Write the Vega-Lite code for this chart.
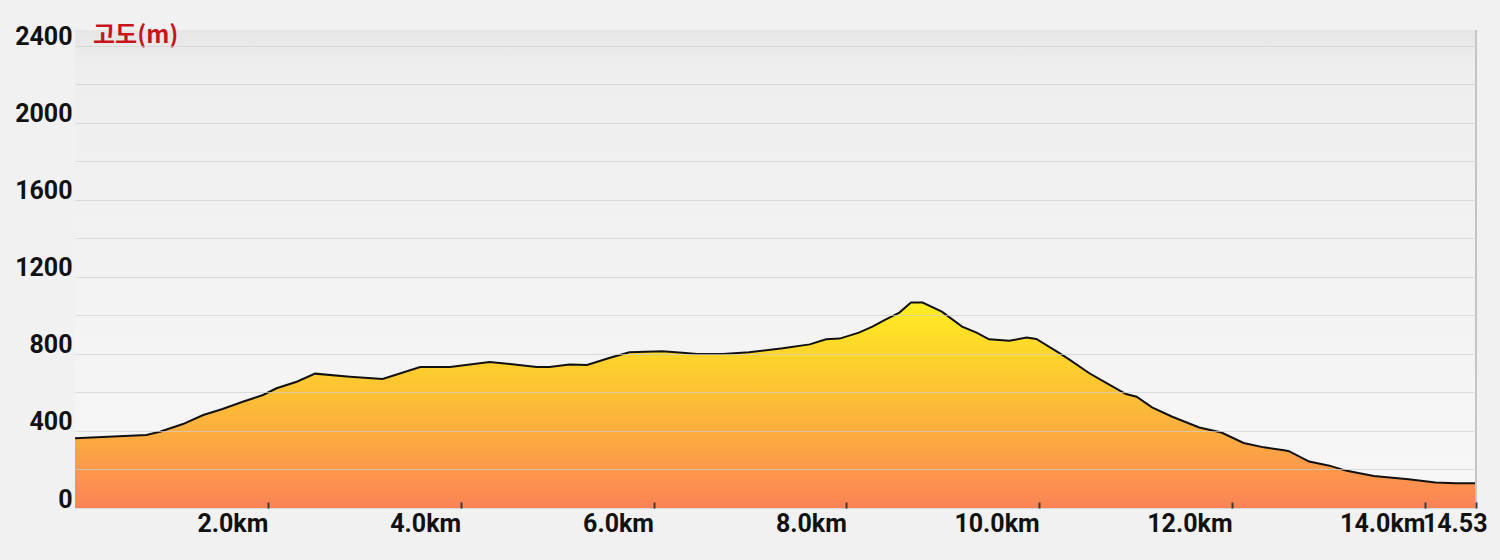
{
  "$schema": "https://vega.github.io/schema/vega-lite/v6.json",
  "width": 1401,
  "height": 478,
  "autosize": {"type": "none"},
  "padding": {"left": 75, "top": 30, "right": 24, "bottom": 52},
  "background": "#f1f1f1",
  "config": {
    "view": {
      "stroke": null,
      "fill": {"gradient": "linear", "x1": 0, "y1": 0, "x2": 0, "y2": 1,
        "stops": [{"offset": 0, "color": "#e6e6e6"}, {"offset": 0.08, "color": "#eeeeee"}, {"offset": 1, "color": "#f7f7f7"}]}
    }
  },
  "title": {
    "text": "고도(m)",
    "anchor": "start",
    "frame": "group",
    "orient": "top",
    "offset": -23,
    "dx": 18,
    "font": "Noto Sans CJK KR",
    "fontSize": 24,
    "fontWeight": "bold",
    "color": "#c8141c"
  },
  "data": {
    "values": [
      {"km": 0.00, "m": 362}, {"km": 0.74, "m": 379}, {"km": 0.88, "m": 396}, {"km": 1.12, "m": 436},
      {"km": 1.33, "m": 483}, {"km": 1.53, "m": 514}, {"km": 1.74, "m": 552}, {"km": 1.95, "m": 587},
      {"km": 2.09, "m": 622}, {"km": 2.30, "m": 656}, {"km": 2.49, "m": 698}, {"km": 2.85, "m": 682},
      {"km": 3.19, "m": 670}, {"km": 3.58, "m": 732}, {"km": 3.89, "m": 732}, {"km": 4.30, "m": 758},
      {"km": 4.51, "m": 748}, {"km": 4.79, "m": 732}, {"km": 4.92, "m": 732}, {"km": 5.13, "m": 745},
      {"km": 5.31, "m": 743}, {"km": 5.54, "m": 779}, {"km": 5.75, "m": 809}, {"km": 6.09, "m": 814},
      {"km": 6.30, "m": 807}, {"km": 6.45, "m": 800}, {"km": 6.72, "m": 800}, {"km": 6.99, "m": 809},
      {"km": 7.34, "m": 830}, {"km": 7.62, "m": 850}, {"km": 7.79, "m": 876}, {"km": 7.93, "m": 880},
      {"km": 8.13, "m": 911}, {"km": 8.27, "m": 942}, {"km": 8.41, "m": 980}, {"km": 8.55, "m": 1015},
      {"km": 8.67, "m": 1067}, {"km": 8.79, "m": 1067}, {"km": 8.99, "m": 1020}, {"km": 9.20, "m": 942},
      {"km": 9.35, "m": 911}, {"km": 9.48, "m": 876}, {"km": 9.69, "m": 869}, {"km": 9.87, "m": 885},
      {"km": 9.97, "m": 878}, {"km": 10.21, "m": 804}, {"km": 10.31, "m": 772}, {"km": 10.52, "m": 700},
      {"km": 10.69, "m": 651}, {"km": 10.90, "m": 592}, {"km": 11.01, "m": 578}, {"km": 11.17, "m": 523},
      {"km": 11.38, "m": 474}, {"km": 11.66, "m": 418}, {"km": 11.89, "m": 392}, {"km": 12.12, "m": 338},
      {"km": 12.33, "m": 315}, {"km": 12.54, "m": 300}, {"km": 12.59, "m": 295}, {"km": 12.80, "m": 241},
      {"km": 13.01, "m": 220}, {"km": 13.19, "m": 193}, {"km": 13.47, "m": 166}, {"km": 13.83, "m": 149},
      {"km": 14.11, "m": 133}, {"km": 14.32, "m": 128}, {"km": 14.53, "m": 128}
    ]
  },
  "layer": [
    {
      "mark": {
        "type": "area",
        "interpolate": "linear",
        "opacity": 1,
        "fillOpacity": 1,
        "line": {"color": "#111111", "strokeWidth": 2},
        "color": {"gradient": "linear", "x1": 0, "y1": 0, "x2": 0, "y2": 1,
          "stops": [
            {"offset": 0, "color": "#ffee22"},
            {"offset": 0.3, "color": "#fdd02c"},
            {"offset": 0.65, "color": "#fcab40"},
            {"offset": 1, "color": "#fb8356"}
          ]}
      },
      "encoding": {
        "x": {
          "field": "km", "type": "quantitative",
          "scale": {"domain": [0, 14.53], "nice": false, "zero": false},
          "axis": {
            "title": null,
            "values": [2, 4, 6, 8, 10, 12, 14, 14.53],
            "labelExpr": "datum.value > 14.5 ? '14.53' : format(datum.value, '.1f') + 'km'",
            "labelAlign": "right",
            "labelOffset": {"condition": {"test": "datum.value > 14.5", "value": 11}, "value": 0},
            "labelFlush": false,
            "labelOverlap": false,
            "labelBaseline": "top",
            "labelFont": "Roboto",
            "labelFontSize": 25,
            "labelFontWeight": "bold",
            "labelColor": "#111111",
            "labelPadding": 9,
            "domain": false,
            "grid": false,
            "ticks": true,
            "tickSize": -6,
            "tickColor": "#3a3a3a",
            "tickWidth": 2,
            "zindex": 1
          }
        },
        "y": {
          "field": "m", "type": "quantitative",
          "scale": {"domain": [0, 2483], "nice": false, "zero": true},
          "axis": {
            "title": null,
            "values": [0, 200, 400, 600, 800, 1000, 1200, 1400, 1600, 1800, 2000, 2200, 2400],
            "labelExpr": "datum.value % 400 == 0 ? datum.label : ''",
            "format": "d",
            "labelBaseline": "alphabetic",
            "labelFont": "Roboto",
            "labelFontSize": 25,
            "labelFontWeight": "bold",
            "labelColor": "#111111",
            "labelPadding": 3,
            "labelOffset": -1,
            "domain": false,
            "ticks": false,
            "grid": true,
            "gridColor": "#cfcfcf",
            "gridOpacity": 0.7,
            "gridWidth": 1.2,
            "zindex": 1
          }
        }
      }
    },
    {
      "mark": {"type": "rule", "color": "#c4c4c4", "strokeWidth": 2},
      "encoding": {"x": {"datum": 14.53}}
    }
  ]
}
